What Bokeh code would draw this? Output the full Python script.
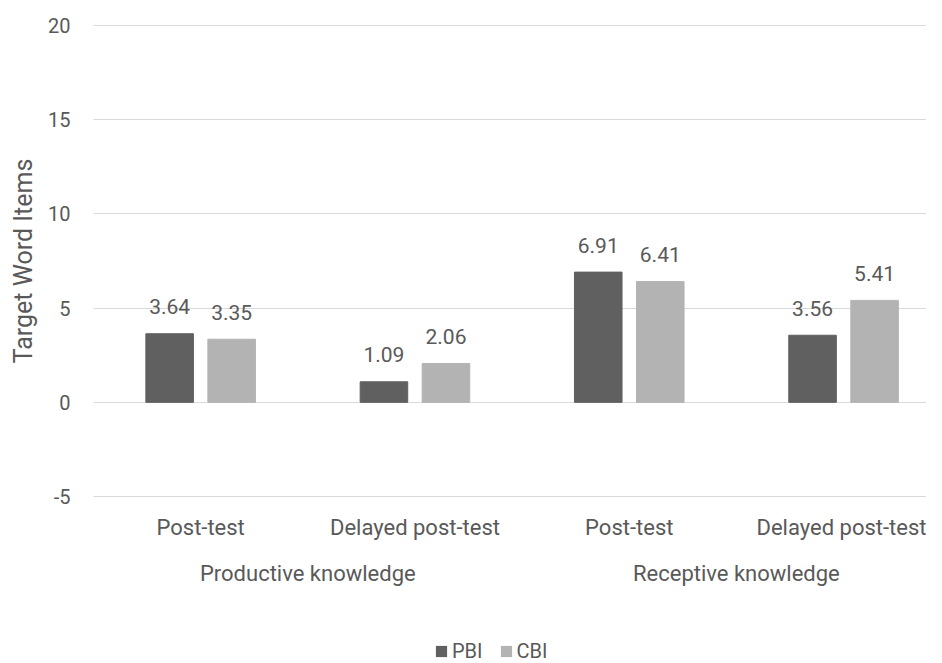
from bokeh.plotting import figure
from bokeh.layouts import column
from bokeh.models import (ColumnDataSource, Range1d, LinearAxis, FixedTicker,
                          Legend, LegendItem)
from bokeh.core.properties import value
from bokeh.embed import file_html
from bokeh.resources import INLINE

# ---- data ----
groups = ["Productive knowledge", "Receptive knowledge"]
tests = ["Post-test", "Delayed post-test", "Post-test", "Delayed post-test"]
series = ["PBI", "CBI"]
pbi = [3.64, 1.09, 6.91, 3.56]
cbi = [3.35, 2.06, 6.41, 5.41]
y_ticks = [-5, 0, 5, 10, 15, 20]

TXT = "#595959"
FONT = "Roboto"
C_PBI = "#606060"
C_CBI = "#b3b3b3"

n = len(tests)
centers = [i + 0.5 for i in range(n)]
off = 0.1447
bw = 0.222

src_p = ColumnDataSource(dict(x=[c - off for c in centers], top=pbi,
                              lab=[f"{v:.2f}" for v in pbi]))
src_c = ColumnDataSource(dict(x=[c + off for c in centers], top=cbi,
                              lab=[f"{v:.2f}" for v in cbi]))

p = figure(frame_width=833, frame_height=473,
           x_range=Range1d(0, 3.887), y_range=Range1d(-5.05, 20.05),
           output_backend="svg", toolbar_location=None,
           x_axis_location=None, y_axis_location="left",
           min_border_left=93, min_border_top=24, min_border_right=0,
           min_border_bottom=112)
p.outline_line_color = None
p.background_fill_color = "white"
p.border_fill_color = "white"

r1 = p.vbar(x="x", top="top", width=bw, bottom=0, source=src_p,
            fill_color=C_PBI, line_color=C_PBI)
r2 = p.vbar(x="x", top="top", width=bw, bottom=0, source=src_c,
            fill_color=C_CBI, line_color=C_CBI)

for s in (src_p, src_c):
    p.text(x="x", y="top", text="lab", source=s, text_align="center",
           text_baseline="alphabetic", y_offset=-27,
           text_font=value(FONT), text_font_size="21px", text_color=TXT)

# y axis
ya = p.yaxis[0]
ya.ticker = FixedTicker(ticks=y_ticks)
ya.major_label_overrides = {t: str(t) for t in y_ticks}
ya.axis_line_color = None
ya.major_tick_line_color = None
ya.minor_tick_line_color = None
ya.major_label_standoff = 17
ya.major_label_text_font = FONT
ya.major_label_text_font_size = "20px"
ya.major_label_text_color = TXT
ya.axis_label = "Target Word Items"
ya.axis_label_text_font = FONT
ya.axis_label_text_font_size = "25px"
ya.axis_label_text_font_style = "normal"
ya.axis_label_text_color = TXT
ya.axis_label_standoff = 7

p.ygrid.ticker = FixedTicker(ticks=y_ticks)
p.ygrid.grid_line_color = "#d9d9d9"
p.ygrid.grid_line_width = 1
p.xgrid.grid_line_color = None

# category axes
ax1 = LinearAxis(ticker=FixedTicker(ticks=centers),
                 major_label_overrides={c: t for c, t in zip(centers, tests)})
ax2 = LinearAxis(ticker=FixedTicker(ticks=[1.0, 3.0]),
                 major_label_overrides={1.0: groups[0], 3.0: groups[1]})
for ax, so in ((ax1, 11), (ax2, 12)):
    ax.axis_line_color = None
    ax.major_tick_line_color = None
    ax.minor_tick_line_color = None
    ax.major_label_standoff = so
    ax.major_label_text_font = FONT
    ax.major_label_text_font_size = "22px"
    ax.major_label_text_color = TXT
    p.add_layout(ax, "below")

# legend strip below the chart (invisible zero-size swatch renderers)
p2 = figure(width=926, height=54, output_backend="svg", toolbar_location=None,
            x_range=Range1d(0, 1), y_range=Range1d(0, 1),
            x_axis_location=None, y_axis_location=None,
            min_border_left=0, min_border_right=0, min_border_top=0,
            min_border_bottom=0)
p2.outline_line_color = None
p2.xgrid.grid_line_color = None
p2.ygrid.grid_line_color = None
p2.background_fill_color = "white"
p2.border_fill_color = "white"
lr1 = p2.vbar(x=[0], top=[0], bottom=[0], width=0, fill_color=C_PBI,
              line_color=C_PBI, line_alpha=0)
lr2 = p2.vbar(x=[0], top=[0], bottom=[0], width=0, fill_color=C_CBI,
              line_color=C_CBI, line_alpha=0)

legend = Legend(items=[LegendItem(label=series[0], renderers=[lr1]),
                       LegendItem(label=series[1], renderers=[lr2])],
                orientation="horizontal", location=(341, 0),
                glyph_width=14, glyph_height=14, spacing=16,
                label_standoff=4, padding=0, margin=0,
                label_text_font=FONT, label_text_font_size="20px",
                label_text_color=TXT, border_line_color=None,
                background_fill_alpha=0)
p2.add_layout(legend, "center")

layout = column(p, p2, spacing=0)
open("out.html", "w").write(file_html(layout, INLINE))
